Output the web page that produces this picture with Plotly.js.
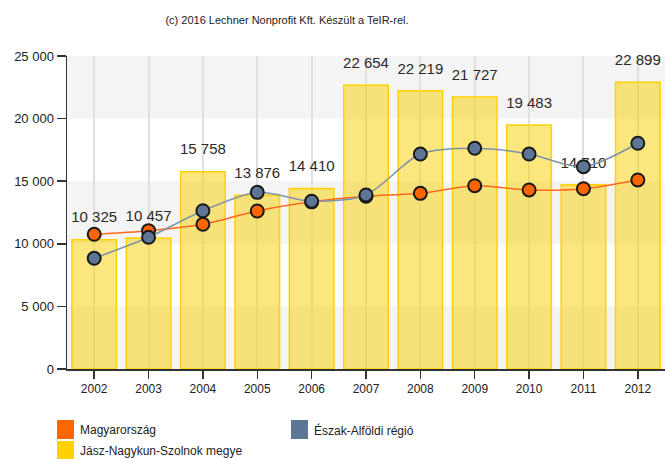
<!DOCTYPE html>
<html>
<head>
<meta charset="utf-8">
<script src="https://cdn.plot.ly/plotly-3.0.1.min.js"></script>
<style>html,body{margin:0;padding:0;background:#fff;}#chart{width:665px;height:459px;}</style>
</head>
<body>
<div id="chart"></div>
<script>
var years = ['2002','2003','2004','2005','2006','2007','2008','2009','2010','2011','2012'];
var county = [10325, 10457, 15758, 13876, 14410, 22654, 22219, 21727, 19483, 14710, 22899];
var hungary = [10760, 11050, 11560, 12620, 13350, 13800, 14030, 14640, 14300, 14400, 15100];
var region = [8840, 10520, 12640, 14110, 13400, 13900, 17170, 17630, 17170, 16160, 18030];
var seriesNames = ['Magyarország', 'Észak-Alföldi régió', 'Jász-Nagykun-Szolnok megye'];
var yTicks = [0, 5000, 10000, 15000, 20000, 25000];
var titleText = '(c) 2016 Lechner Nonprofit Kft. Készült a TeIR-rel.';

function fmt(v){ return String(v).replace(/\B(?=(\d{3})+(?!\d))/g, ' '); }

var W = 665, H = 459, L = 67, R = 0, T = 56, B = 90;
var pw = W - L - R, ph = H - T - B;
function px(x){ return (x - L) / pw; }
function py(y){ return (H - B - y) / ph; }

var ORANGE = '#FF6600', BLUE = '#5E7696', YELLOW = '#FFD200';

var traces = [
  {type:'bar', x: years, y: county, name: seriesNames[2], width: 0.82,
   marker:{color:'rgba(250,210,20,0.55)', line:{color:YELLOW, width:1.5}},
   hoverinfo:'skip', showlegend:false},
  {type:'scatter', mode:'markers+text', x: years, y: county,
   text: county.map(fmt), textposition:'top center',
   textfont:{family:'Liberation Sans, Arial, sans-serif', size:15, color:'#2a2a2a'},
   marker:{size:20, opacity:0}, hoverinfo:'skip', showlegend:false, cliponaxis:false},
  {type:'scatter', mode:'lines+markers', x: years, y: hungary, name: seriesNames[0],
   line:{color:'#FF6A1A', width:1.5, shape:'spline', smoothing:0.8},
   marker:{color:ORANGE, size:13, line:{color:'#1a1a1a', width:2}},
   showlegend:false, cliponaxis:false},
  {type:'scatter', mode:'lines+markers', x: years, y: region, name: seriesNames[1],
   line:{color:'#7F92A9', width:1.5, shape:'spline', smoothing:0.8},
   marker:{color:BLUE, size:13, line:{color:'#1a1a1a', width:2}},
   showlegend:false, cliponaxis:false}
];

var shapes = [];
// alternating background bands
[[0,5000],[10000,15000],[20000,25000]].forEach(function(b){
  shapes.push({type:'rect', xref:'paper', yref:'y', x0:0, x1:1, y0:b[0], y1:b[1],
    fillcolor:'#F4F4F4', line:{width:0}, layer:'below'});
});
// legend swatches
var legendItems = [
  {name: seriesNames[0], color: ORANGE, x: 57, y: 430},
  {name: seriesNames[1], color: BLUE, x: 291, y: 430},
  {name: seriesNames[2], color: YELLOW, x: 57, y: 451}
];
var annotations = [];
legendItems.forEach(function(it){
  shapes.push({type:'rect', xref:'paper', yref:'paper',
    x0: px(it.x), x1: px(it.x + 17), y0: py(it.y - 10), y1: py(it.y + 9),
    fillcolor: it.color, line:{width:0}});
  annotations.push({xref:'paper', yref:'paper', x: px(it.x + 21), y: py(it.y),
    xanchor:'left', yanchor:'middle', showarrow:false, text: it.name,
    font:{family:'Liberation Sans, Arial, sans-serif', size:12, color:'#222'}});
});

var layout = {
  width: W, height: H,
  margin:{l:L, r:R, t:T, b:B, pad:0},
  paper_bgcolor:'#ffffff', plot_bgcolor:'#ffffff',
  separators:', ',
  showlegend:false,
  title:{text: titleText, xref:'container', yref:'container', x: 287/W, y: 1 - 20/H,
    xanchor:'center', yanchor:'middle',
    font:{family:'Liberation Sans, Arial, sans-serif', size:11, color:'#222'}},
  xaxis:{type:'category', range:[-0.5, 10.5], showgrid:true, gridcolor:'#E0E0E0', gridwidth:2,
    showline:true, linecolor:'#333', linewidth:1.5, ticks:'outside', ticklen:8, tickcolor:'#333',
    tickwidth:1.5, tickfont:{family:'Liberation Sans, Arial, sans-serif', size:12, color:'#222'},
    zeroline:false, fixedrange:true},
  yaxis:{range:[0, 25000], tickvals: yTicks, ticktext: yTicks.map(fmt), showgrid:false,
    showline:true, linecolor:'#333', linewidth:1.5, ticks:'outside', ticklen:9, tickcolor:'#333',
    tickwidth:1.5, tickfont:{family:'Liberation Sans, Arial, sans-serif', size:13, color:'#222'},
    zeroline:false, fixedrange:true},
  shapes: shapes,
  annotations: annotations,
  bargap: 0.18
};

Plotly.newPlot('chart', traces, layout, {displayModeBar:false, staticPlot:true});
</script>
</body>
</html>
